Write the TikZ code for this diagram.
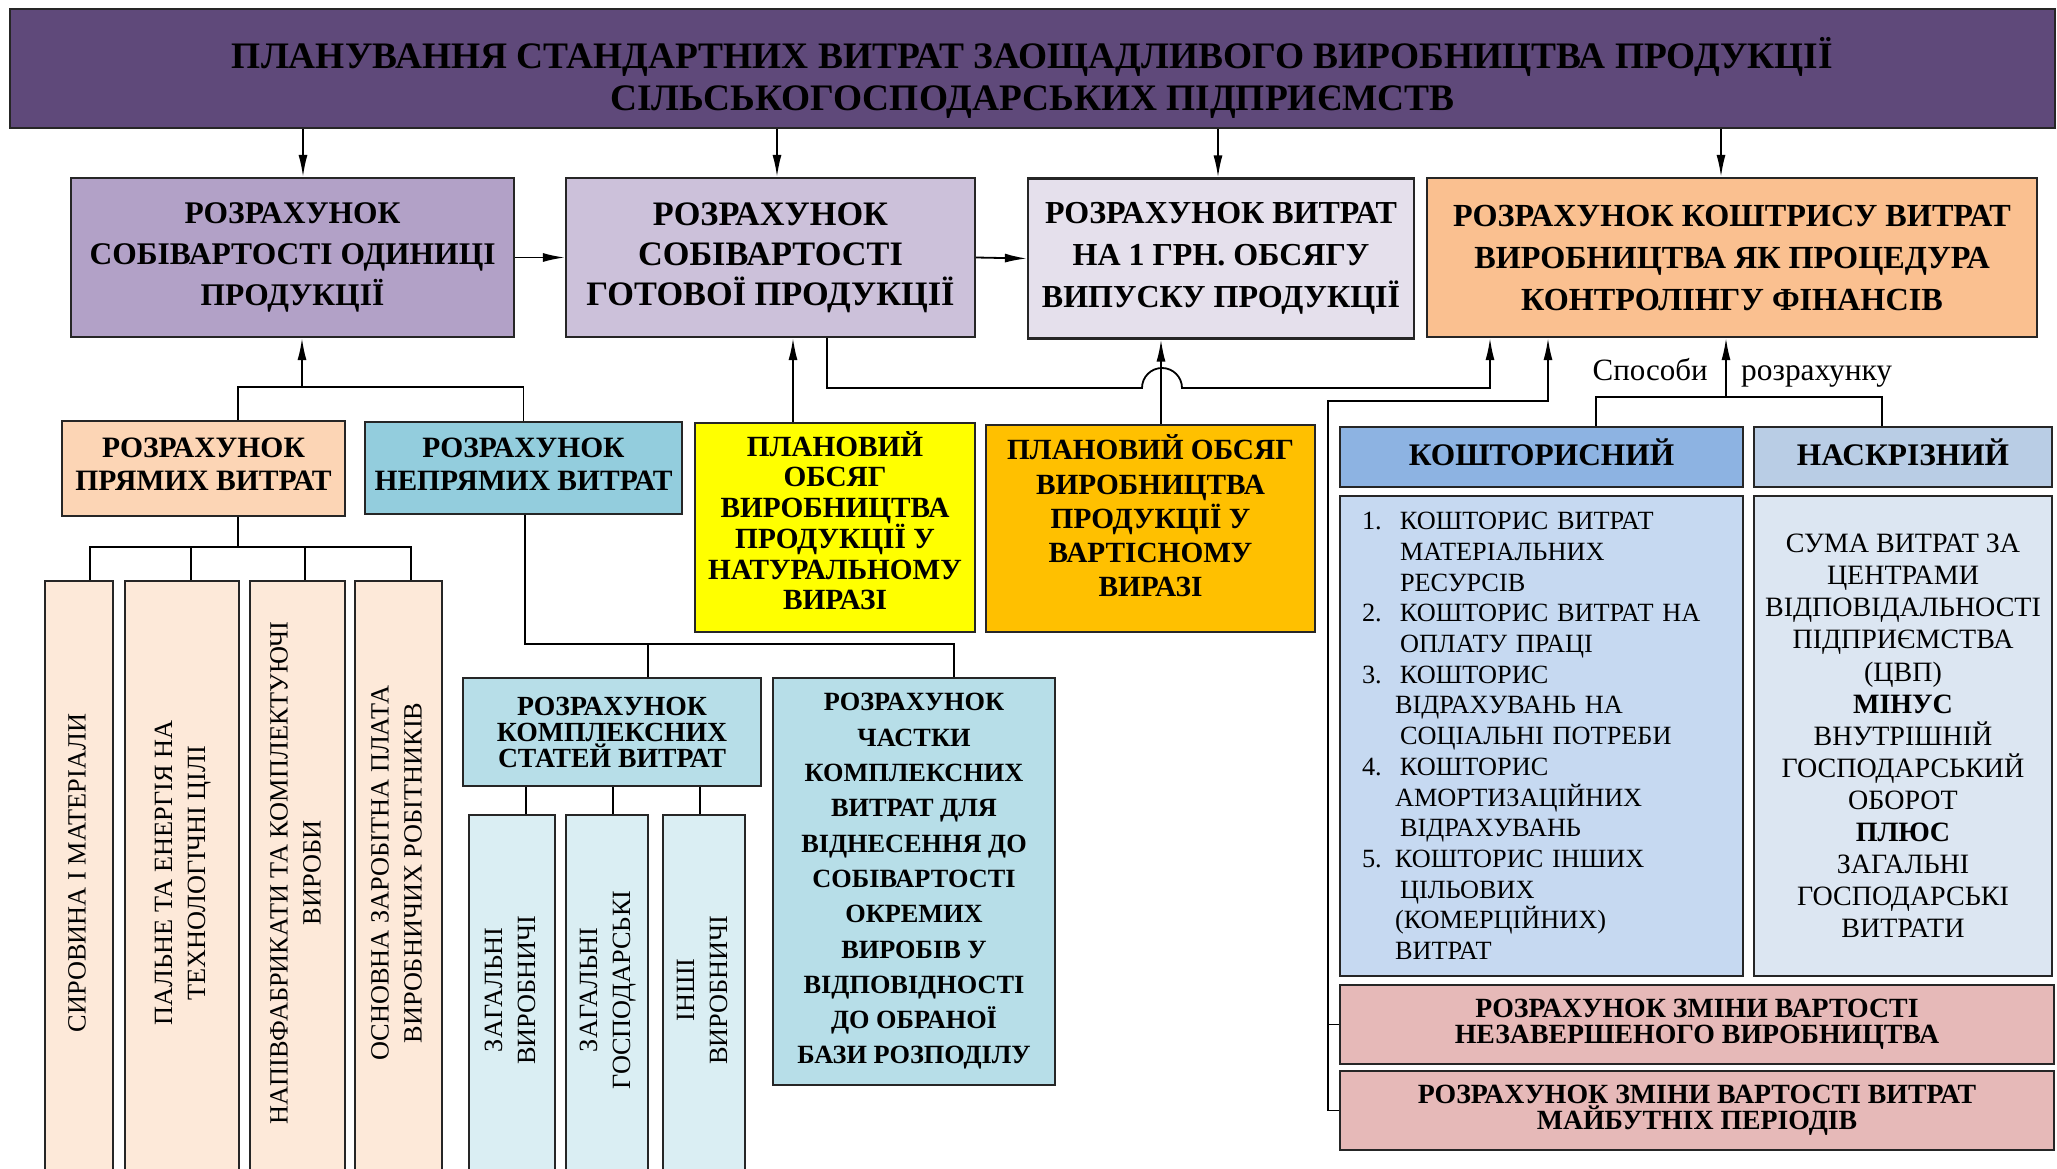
\documentclass[tikz,border=0pt]{standalone}
\usepackage{fontspec}
\setmainfont{Liberation Serif}
\usetikzlibrary{arrows.meta}

\definecolor{cTitle}{HTML}{5F497A}
\definecolor{cUnit}{HTML}{B2A1C7}
\definecolor{cFinished}{HTML}{CCC1DA}
\definecolor{cPerHrn}{HTML}{E5E0EC}
\definecolor{cBudget}{HTML}{FAC090}
\definecolor{cDirect}{HTML}{FCD5B5}
\definecolor{cDirectSub}{HTML}{FDE9D9}
\definecolor{cIndirect}{HTML}{93CDDD}
\definecolor{cComplex}{HTML}{B7DEE8}
\definecolor{cComplexSub}{HTML}{DAEEF3}
\definecolor{cNatural}{HTML}{FFFF00}
\definecolor{cValued}{HTML}{FFC000}
\definecolor{cKHead}{HTML}{8DB3E2}
\definecolor{cNHead}{HTML}{B9CDE5}
\definecolor{cKBody}{HTML}{C6D9F1}
\definecolor{cNBody}{HTML}{DCE6F2}
\definecolor{cPink}{HTML}{E6B9B8}

\newcommand{\fsize}[2]{\fontsize{#1}{#2}\selectfont}
\newcommand{\vlabel}[1]{\hspace*{15pt}\begin{tabular}{@{}c@{}}#1\end{tabular}}
\newcommand{\knum}[1]{\makebox[38pt][l]{#1}}

\begin{document}
\begin{tikzpicture}[
        x=1pt, y=-1pt,
        box/.style={
            rectangle, draw=black!85, line width=2.2pt,
            inner sep=0pt, align=center, text centered
        },
        boxtext/.style={inner sep=0pt, align=center},
        vbox/.style={box, rotate=90, font=\fsize{26.3}{33}},
        arrow/.style={-{Latex[length=22pt,width=9pt]}, line width=1.8pt},
        line/.style={line width=1.8pt}
    ]
        \path[use as bounding box, fill=white] (0,0) rectangle (2057,1169);

        % Заголовок
        \node[box, fill=cTitle, minimum width=2045pt, minimum height=119pt] (title) at (1032.5,68.5) {};
        \node[boxtext, font=\fsize{37.4}{42}\bfseries] (title-text) at ([yshift=-9pt]title.center)
            {ПЛАНУВАННЯ СТАНДАРТНИХ ВИТРАТ ЗАОЩАДЛИВОГО ВИРОБНИЦТВА ПРОДУКЦІЇ\\
             СІЛЬСЬКОГОСПОДАРСЬКИХ ПІДПРИЄМСТВ};

        % Верхній ряд
        \node[box, fill=cUnit, minimum width=443pt, minimum height=159pt,
              font=\fsize{31.5}{41}\bfseries] (unit) at (292.5,257.5)
            {РОЗРАХУНОК\\СОБІВАРТОСТІ ОДИНИЦІ\\ПРОДУКЦІЇ};
        \node[box, fill=cFinished, minimum width=409pt, minimum height=159pt,
              font=\fsize{34.3}{40}\bfseries] (finished) at (770.5,257.5)
            {РОЗРАХУНОК\\СОБІВАРТОСТІ\\ГОТОВОЇ ПРОДУКЦІЇ};
        \node[box, fill=cPerHrn, minimum width=386pt, minimum height=160pt,
              font=\fsize{32}{42}\bfseries] (perhrn) at (1221,258.5)
            {РОЗРАХУНОК ВИТРАТ\\НА 1 ГРН. ОБСЯГУ\\ВИПУСКУ ПРОДУКЦІЇ};
        \node[box, fill=cBudget, minimum width=610pt, minimum height=159pt,
              font=\fsize{32.2}{42}\bfseries] (budget) at (1732,257.5)
            {РОЗРАХУНОК КОШТРИСУ ВИТРАТ\\ВИРОБНИЦТВА ЯК ПРОЦЕДУРА\\КОНТРОЛІНГУ ФІНАНСІВ};

        % Другий ряд
        \node[box, fill=cDirect, minimum width=283pt, minimum height=95pt] (direct) at (203.5,468.5) {};
        \node[boxtext, font=\fsize{29.6}{33}\bfseries] (direct-text) at ([yshift=4pt]direct.center)
            {РОЗРАХУНОК\\ПРЯМИХ ВИТРАТ};
        \node[box, fill=cIndirect, minimum width=317pt, minimum height=92pt] (indirect) at (523.5,468) {};
        \node[boxtext, font=\fsize{29.5}{33}\bfseries] (indirect-text) at ([yshift=4pt]indirect.center)
            {РОЗРАХУНОК\\НЕПРЯМИХ ВИТРАТ};
        \node[box, fill=cNatural, minimum width=280pt, minimum height=209pt] (natural) at (835,527.5) {};
        \node[boxtext, font=\fsize{29.3}{30.4}\bfseries] (natural-text) at ([yshift=7pt]natural.center)
            {ПЛАНОВИЙ\\ОБСЯГ\\ВИРОБНИЦТВА\\ПРОДУКЦІЇ У\\НАТУРАЛЬНОМУ\\ВИРАЗІ};
        \node[box, fill=cValued, minimum width=329pt, minimum height=207pt] (valued) at (1150.5,528.5) {};
        \node[boxtext, font=\fsize{29.3}{34.3}\bfseries] (valued-text) at ([yshift=12.5pt]valued.center)
            {ПЛАНОВИЙ ОБСЯГ\\ВИРОБНИЦТВА\\ПРОДУКЦІЇ У\\ВАРТІСНОМУ\\ВИРАЗІ};

        % Статті прямих витрат
        \node[vbox, fill=cDirectSub, minimum width=599pt, minimum height=68pt] (d1) at (79,880.5)
            {\vlabel{СИРОВИНА І МАТЕРІАЛИ}};
        \node[vbox, fill=cDirectSub, minimum width=599pt, minimum height=114pt] (d2) at (182,880.5)
            {\vlabel{ПАЛЬНЕ ТА ЕНЕРГІЯ НА\\ТЕХНОЛОГІЧНІ ЦІЛІ}};
        \node[vbox, fill=cDirectSub, minimum width=599pt, minimum height=95pt] (d3) at (297.5,880.5)
            {\vlabel{НАПІВФАБРИКАТИ ТА КОМПЛЕКТУЮЧІ\\ВИРОБИ}};
        \node[vbox, fill=cDirectSub, minimum width=599pt, minimum height=87pt] (d4) at (398.5,880.5)
            {\vlabel{ОСНОВНА ЗАРОБІТНА ПЛАТА\\ВИРОБНИЧИХ РОБІТНИКІВ}};

        % Непрямі витрати
        \node[box, fill=cComplex, minimum width=298pt, minimum height=108pt,
              font=\fsize{27.7}{26}\bfseries] (complex) at (612,732)
            {РОЗРАХУНОК\\КОМПЛЕКСНИХ\\СТАТЕЙ ВИТРАТ};
        \node[box, fill=cComplex, minimum width=282pt, minimum height=407pt,
              font=\fsize{26.3}{35.3}\bfseries] (share) at (914,881.5)
            {РОЗРАХУНОК\\ЧАСТКИ\\КОМПЛЕКСНИХ\\ВИТРАТ ДЛЯ\\ВІДНЕСЕННЯ ДО\\СОБІВАРТОСТІ\\ОКРЕМИХ\\ВИРОБІВ У\\ВІДПОВІДНОСТІ\\ДО ОБРАНОЇ\\БАЗИ РОЗПОДІЛУ};
        \node[vbox, fill=cComplexSub, minimum width=365pt, minimum height=86pt] (s1) at (512,997.5)
            {\vlabel{ЗАГАЛЬНІ\\ВИРОБНИЧІ}};
        \node[vbox, fill=cComplexSub, minimum width=365pt, minimum height=82pt] (s2) at (607,997.5)
            {\vlabel{ЗАГАЛЬНІ\\ГОСПОДАРСЬКІ}};
        \node[vbox, fill=cComplexSub, minimum width=365pt, minimum height=82pt] (s3) at (704,997.5)
            {\vlabel{ІНШІ\\ВИРОБНИЧІ}};

        % Способи розрахунку
        \node[box, fill=cKHead, minimum width=403pt, minimum height=60pt] (khead) at (1541.5,457) {};
        \node[boxtext, font=\fsize{31.4}{36}\bfseries] (khead-text) at ([yshift=5pt]khead.center) {КОШТОРИСНИЙ};
        \node[box, fill=cNHead, minimum width=298pt, minimum height=60pt] (nhead) at (1903,457) {};
        \node[boxtext, font=\fsize{31.4}{36}\bfseries] (nhead-text) at ([yshift=5pt]nhead.center) {НАСКРІЗНИЙ};
        \node[box, fill=cKBody, minimum width=403pt, minimum height=480pt,
              text width=359pt, inner xsep=22pt, align=left,
              font=\fsize{26.3}{30.7}] (kbody) at (1541.5,736)
            {\knum{1.}КОШТОРИС ВИТРАТ\\
             \hspace*{38pt}МАТЕРІАЛЬНИХ\\
             \hspace*{38pt}РЕСУРСІВ\\
             \knum{2.}КОШТОРИС ВИТРАТ НА\\
             \hspace*{38pt}ОПЛАТУ ПРАЦІ\\
             \knum{3.}КОШТОРИС\\
             \hspace*{33pt}ВІДРАХУВАНЬ НА\\
             \hspace*{38pt}СОЦІАЛЬНІ ПОТРЕБИ\\
             \knum{4.}КОШТОРИС\\
             \hspace*{33pt}АМОРТИЗАЦІЙНИХ\\
             \hspace*{38pt}ВІДРАХУВАНЬ\\
             \makebox[33pt][l]{5.}КОШТОРИС ІНШИХ\\
             \hspace*{38pt}ЦІЛЬОВИХ\\
             \hspace*{33pt}(КОМЕРЦІЙНИХ)\\
             \hspace*{33pt}ВИТРАТ};
        \node[box, fill=cNBody, minimum width=298pt, minimum height=480pt,
              font=\fsize{28}{32.1}] (nbody) at (1903,736)
            {СУМА ВИТРАТ ЗА\\ЦЕНТРАМИ\\ВІДПОВІДАЛЬНОСТІ\\ПІДПРИЄМСТВА\\(ЦВП)\\
             \textbf{МІНУС}\\ВНУТРІШНІЙ\\ГОСПОДАРСЬКИЙ\\ОБОРОТ\\\textbf{ПЛЮС}\\
             ЗАГАЛЬНІ\\ГОСПОДАРСЬКІ\\ВИТРАТИ};
        \node[box, fill=cPink, minimum width=714pt, minimum height=79pt,
              font=\fsize{27.8}{26}\bfseries] (wip) at (1697,1024.5)
            {РОЗРАХУНОК ЗМІНИ ВАРТОСТІ\\НЕЗАВЕРШЕНОГО ВИРОБНИЦТВА};
        \node[box, fill=cPink, minimum width=714pt, minimum height=79pt,
              font=\fsize{27.8}{26}\bfseries] (future) at (1697,1110.5)
            {РОЗРАХУНОК ЗМІНИ ВАРТОСТІ ВИТРАТ\\МАЙБУТНІХ ПЕРІОДІВ};

        \node[anchor=base east, inner sep=0pt, font=\fsize{31}{36}] (waysl) at (1708,380) {Способи};
        \node[anchor=base west, inner sep=0pt, font=\fsize{31.4}{36}] (waysr) at (1741,380) {розрахунку};

        % Точки розгалуження
        \coordinate (costjoin) at (302,387);
        \coordinate (dirjoin) at (238,547);
        \coordinate (indjoin) at (525,644);
        \coordinate (hop) at (1142,388);
        \coordinate (rail) at (1328,401);
        \coordinate (methods) at (1726,397);

        % Стрілки від заголовка
        \draw[arrow] ([xshift=10.5pt]unit.north |- title.south) -- ([xshift=10.5pt]unit.north);
        \draw[arrow] ([xshift=6.5pt]finished.north |- title.south) -- ([xshift=6.5pt]finished.north);
        \draw[arrow] ([xshift=-3pt]perhrn.north |- title.south) -- ([xshift=-3pt]perhrn.north);
        \draw[arrow] ([xshift=-11pt]budget.north |- title.south) -- ([xshift=-11pt]budget.north);

        % Горизонтальні стрілки
        \draw[arrow] (unit.east) -- (finished.west);
        \draw[arrow] (finished.east) -- (perhrn.west);

        % Прямі та непрямі витрати
        \draw[line] ([xshift=34.5pt]direct.north) |- (indirect.north |- costjoin) -- (indirect.north);
        \draw[arrow] ([xshift=9.5pt]unit.south |- costjoin) -- ([xshift=9.5pt]unit.south);

        \draw[line] ([xshift=34.5pt]direct.south) -- (dirjoin);
        \draw[line] ([xshift=11pt]d1.east) |- ([xshift=12.5pt]d4.east |- dirjoin) -- ([xshift=12.5pt]d4.east);
        \draw[line] ([xshift=9pt]d2.east) -- ([xshift=9pt]d2.east |- dirjoin);
        \draw[line] ([xshift=7.5pt]d3.east) -- ([xshift=7.5pt]d3.east |- dirjoin);

        \draw[line] ([xshift=1.5pt]indirect.south) -- (indjoin) -- ([xshift=40pt]share.north |- indjoin) -- ([xshift=40pt]share.north);
        \draw[line] ([xshift=36pt]complex.north) -- ([xshift=36pt]complex.north |- indjoin);
        \draw[line] ([xshift=14pt]s1.east) -- ([xshift=14pt]s1.east |- complex.south);
        \draw[line] ([xshift=6pt]s2.east) -- ([xshift=6pt]s2.east |- complex.south);
        \draw[line] ([xshift=-4pt]s3.east) -- ([xshift=-4pt]s3.east |- complex.south);

        % Плановий обсяг
        \draw[arrow] ([xshift=-42pt]natural.north) -- ([xshift=-42pt]natural.north |- finished.south);
        \draw[arrow] ([xshift=10.5pt]valued.north) -- ([xshift=10.5pt]valued.north |- perhrn.south);

        % До кошторису
        \draw[arrow] ([xshift=56.5pt]finished.south) |- (hop)
            arc[start angle=180, end angle=0, radius=20pt]
            -- ([xshift=-242pt]budget.south |- hop) -- ([xshift=-242pt]budget.south);
        \draw[arrow] (future.west) -| (rail) -- ([xshift=-184pt]budget.south |- rail) -- ([xshift=-184pt]budget.south);
        \draw[line] (wip.west) -- (wip.west -| rail);

        % Способи
        \draw[line] ([xshift=54.5pt]khead.north) |- ([xshift=-21pt]nhead.north |- methods) -- ([xshift=-21pt]nhead.north);
        \draw[arrow] (methods) -- (methods |- budget.south);

    \end{tikzpicture}
\end{document}
